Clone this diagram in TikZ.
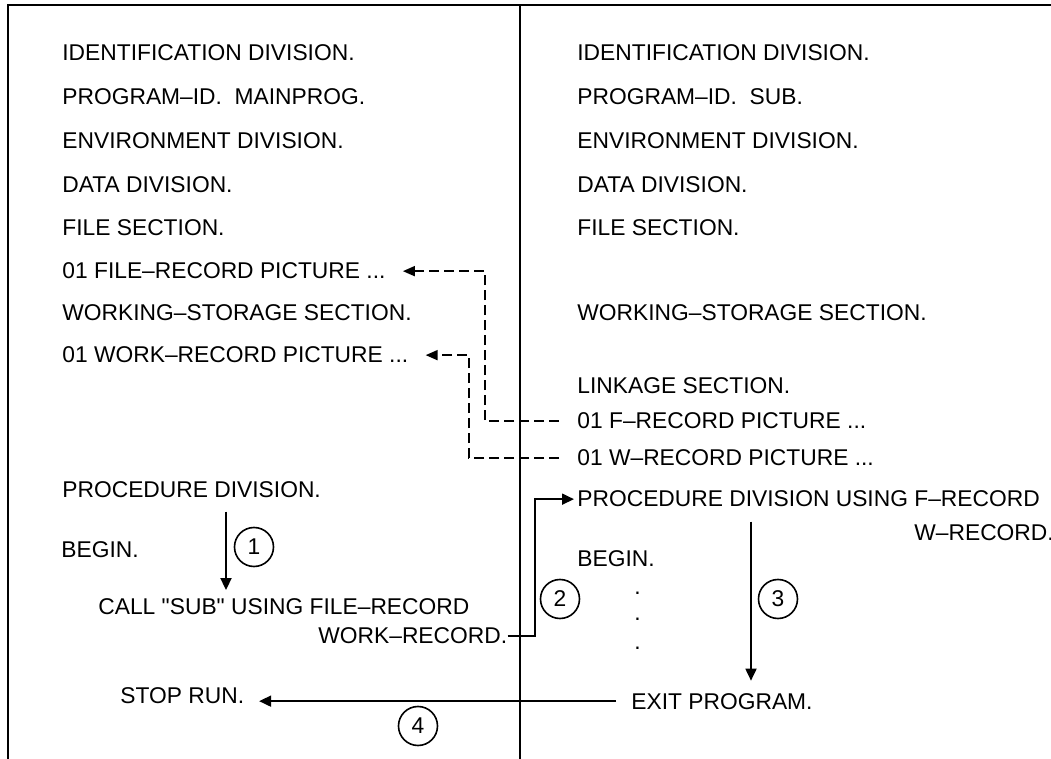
\documentclass[tikz,border=0pt]{standalone}
\usepackage{fontspec}
\setmainfont{Liberation Sans}
\usetikzlibrary{arrows.meta}

\begin{document}
\begin{tikzpicture}[
    % Environment Config
    x=0.5pt, y=-0.5pt,
    font=\fontsize{11.4}{13.7}\selectfont,
    Code/.style={% Style for a program line
      anchor=base west,
      inner sep=0pt
    },
    Frame/.style={% Style for the page frame
      line width=1.1pt
    },
    Flow/.style={% Style for the control flow
      -{Triangle[length=6pt,width=5.5pt]},
      line width=0.9pt
    },
    DataLink/.style={% Style for the shared records
      -{Triangle[length=6pt,width=5pt]},
      line width=0.9pt,
      dash pattern=on 5pt off 2.5pt
    },
    StepMark/.style={% Style for circle marks
      draw,
      circle,
      line width=0.8pt,
      minimum size=19.5pt,
      inner sep=0pt
    }
  ]

  \useasboundingbox (0,0) rectangle (1051,759);

  % Page frame
  \draw[Frame] (1051,5) -- (8,5) -- (8,759);
  \draw[Frame] (520,5) -- (520,759);

  %===Main program===
  \node[Code] (mIdent)    at (62,61)  {IDENTIFICATION DIVISION.};
  \node[Code] (mProgId)   at (62,105) {PROGRAM--ID.~ MAINPROG.};
  \node[Code] (mEnv)      at (62,149) {ENVIRONMENT DIVISION.};
  \node[Code] (mData)     at (62,193) {DATA DIVISION.};
  \node[Code] (mFile)     at (62,236) {FILE SECTION.};
  \node[Code] (mFileRec)  at (62,279) {01 FILE--RECORD PICTURE ...};
  \node[Code] (mWork)     at (62,321) {WORKING--STORAGE SECTION.};
  \node[Code] (mWorkRec)  at (62,363) {01 WORK--RECORD PICTURE ...};
  \node[Code] (mProc)     at (62,498) {PROCEDURE DIVISION.};
  \node[Code] (mBegin)    at (61,558) {BEGIN.};
  \node[Code] (mCall)     at (98,615) {CALL \textquotedbl SUB\textquotedbl\ USING FILE--RECORD};
  \node[Code] (mCallWork) at (318,644) {WORK--RECORD.};
  \node[Code] (mStop)     at (120,703) {STOP RUN.};

  %===Subprogram===
  \node[Code] (sIdent)    at (577,61)  {IDENTIFICATION DIVISION.};
  \node[Code] (sProgId)   at (577,105) {PROGRAM--ID.~ SUB.};
  \node[Code] (sEnv)      at (577,149) {ENVIRONMENT DIVISION.};
  \node[Code] (sData)     at (577,193) {DATA DIVISION.};
  \node[Code] (sFile)     at (577,236) {FILE SECTION.};
  \node[Code] (sWork)     at (577,321) {WORKING--STORAGE SECTION.};
  \node[Code] (sLink)     at (577,394) {LINKAGE SECTION.};
  \node[Code] (sFRec)     at (577,429) {01 F--RECORD PICTURE ...};
  \node[Code] (sWRec)     at (577,466) {01 W--RECORD PICTURE ...};
  \node[Code] (sProc)     at (577,507) {PROCEDURE DIVISION USING F--RECORD};
  \node[Code] (sProcW)    at (914,540) {W--RECORD.};
  \node[Code] (sBegin)    at (577,567) {BEGIN.};
  \node[Code] (sDotA)     at (634,595) {.};
  \node[Code] (sDotB)     at (634,620) {.};
  \node[Code] (sDotC)     at (634,649) {.};
  \node[Code] (sExit)     at (631,709) {EXIT PROGRAM.};

  % Step marks
  \node[StepMark] (c1) at (254,547) {1};
  \node[StepMark] (c2) at (560,599) {2};
  \node[StepMark] (c3) at (778,599) {3};
  \node[StepMark] (c4) at (418,726) {4};

  % Helper columns for the connectors
  \coordinate (jogF)  at (485,0);
  \coordinate (jogW)  at (469,0);
  \coordinate (jogC)  at (535,0);
  \coordinate (runA)  at (226,0);
  \coordinate (runB)  at (751,0);

  % Shared records
  \draw[DataLink, shorten <=9pt, shorten >=8.5pt]
  (sFRec.west)
      -- (sFRec.west -| jogF)
      |- (mFileRec.east);
  \draw[DataLink, shorten <=9pt, shorten >=8.5pt]
  (sWRec.west)
      -- (sWRec.west -| jogW)
      |- (mWorkRec.east);

  % Control flow
  %===1===
  \draw[Flow, shorten <=6.5pt, shorten >=4.3pt]
  (mProc.south -| runA)
      -- (mCall.north -| runA);
  %===2===
  \draw[Flow, shorten >=1.5pt]
  (mCallWork.east)
      -- (mCallWork.east -| jogC)
      |- (sProc.west);
  %===3===
  \draw[Flow, shorten <=7pt, shorten >=6pt]
  (sProc.south -| runB)
      -- (sExit.north -| runB);
  %===4===
  \draw[Flow, shorten <=7.5pt, shorten >=7.3pt]
  (sExit.west)
      -- (sExit.west -| mStop.east);

\end{tikzpicture}
\end{document}
